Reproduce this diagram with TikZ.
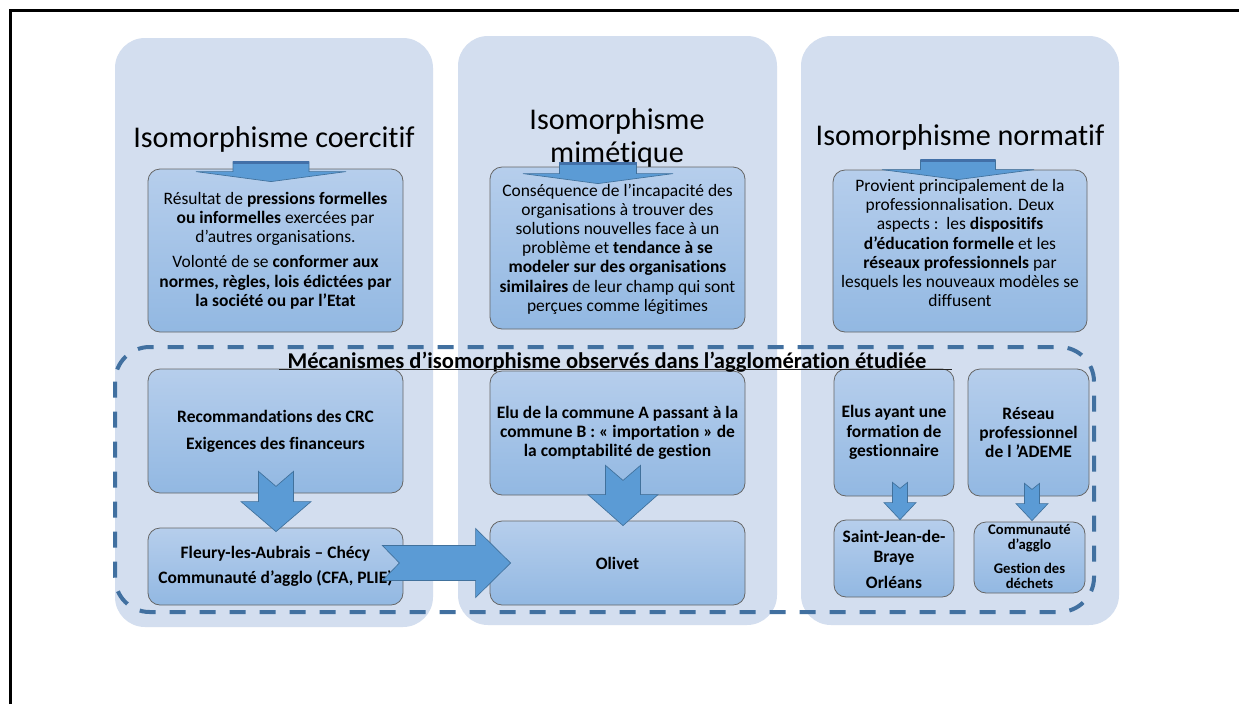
\documentclass[tikz,border=0pt]{standalone}
\usepackage{fontspec}
\setmainfont{Carlito}[Ligatures={NoCommon,NoContextual},RawFeature={-liga;-clig}]
\usetikzlibrary{calc,fit}
\definecolor{colbg}{RGB}{211,222,239}
\definecolor{boxtop}{RGB}{182,206,236}
\definecolor{boxbot}{RGB}{146,184,226}
\definecolor{arrowfill}{RGB}{91,155,213}
\definecolor{arrowdraw}{RGB}{65,113,156}
\definecolor{arrowdark}{RGB}{66,112,168}
\definecolor{dashcol}{RGB}{65,112,160}
\newcommand{\fbody}{\fontsize{13.1pt}{14.4pt}\selectfont}
\newcommand{\ftitle}{\fontsize{22.6pt}{24.75pt}\selectfont}
\newcommand{\fmec}{\fontsize{16.9pt}{19pt}\selectfont\bfseries}
\newcommand{\fsmall}{\fontsize{11pt}{11.6pt}\selectfont\bfseries}
% #1 style, #2 start, #3 tip, #4 shaft half width, #5 head half width, #6 notch depth, #7 head length
\newcommand{\notchdown}[7]{%
  \filldraw[#1] let \p1=#2, \p2=#3 in
   (\x1-#4,\y1) -- (\x1,\y1-#6) -- (\x1+#4,\y1) -- (\x1+#4,\y2+#7) -- (\x1+#5,\y2+#7)
   -- (\x2,\y2) -- (\x1-#5,\y2+#7) -- (\x1-#4,\y2+#7) -- cycle;}
\newcommand{\notchright}[7]{%
  \filldraw[#1] let \p1=#2, \p2=#3 in
   (\x1,\y1+#4) -- (\x1+#6,\y1) -- (\x1,\y1-#4) -- (\x2-#7,\y1-#4) -- (\x2-#7,\y1-#5)
   -- (\x2,\y2) -- (\x2-#7,\y1+#5) -- (\x2-#7,\y1+#4) -- cycle;}
\newcommand{\shafttop}[2]{%
  \draw[arrowdark, line width=2pt] let \p1=#1 in (\x1-#2,\y1-0.6pt) -- (\x1+#2,\y1-0.6pt);}
\begin{document}
\begin{tikzpicture}[x=0.75pt,y=-0.75pt,
  box/.style={draw=black!60, line width=0.6pt, rounded corners=9pt,
              top color=boxtop, bottom color=boxbot, inner sep=0pt},
  txt/.style={align=center, inner sep=0pt, font=\fbody},
  btxt/.style={align=center, inner sep=0pt, font=\fbody\bfseries},
  stxt/.style={align=center, inner sep=0pt, font=\fsmall},
  mtxt/.style={inner sep=0pt, font=\fmec},
  ttl/.style={align=center, inner sep=0pt, font=\ftitle},
  blk/.style={fill=arrowfill, draw=arrowdraw, line width=0.5pt, line join=miter}]
\useasboundingbox (0,0) rectangle (1239,704);
\fill[white] (0,0) rectangle (1239,704);
% frame
\draw[line width=1.7pt] (10.5,704) -- (10.5,10.5) -- (1239,10.5);
% columns
\fill[colbg, rounded corners=22.5pt] (115,38) rectangle (433,627);
\fill[colbg, rounded corners=22.5pt] (458,36) rectangle (777,625);
\fill[colbg, rounded corners=22.5pt] (801,36) rectangle (1119,625);
% dashed frame
\draw[dashcol, line width=3pt, dash pattern=on 12pt off 10.5pt, rounded corners=26pt]
  (115,347) rectangle (1094,612);
% boxes
\node[box, fit={(148,169) (403,332)}] (top1) {};
\node[box, fit={(490,167) (745,329)}] (top2) {};
\node[box, fit={(833,170) (1087,332)}] (top3) {};
\node[box, fit={(148,369) (403,493)}] (rec) {};
\node[box, fit={(148,528) (403,605)}] (fleury) {};
\node[box, fit={(490,371) (745,495)}] (elu) {};
\node[box, fit={(490,521) (745,605)}] (olivet) {};
\node[box, fit={(834,369) (954,496)}] (elus) {};
\node[box, fit={(968,369) (1089,496)}] (reseau) {};
\node[box, fit={(834,520) (954,597)}] (sjb) {};
\node[box, fit={(974,522) (1085,593)}] (comm) {};
% titles
\node[ttl, anchor=base] (tcoer) at (274,147) {Isomorphisme coercitif};
\node[ttl] (tmim) at (617,138) {Isomorphisme\\mimétique};
\node[ttl, anchor=base] (tnorm) at (960,145) {Isomorphisme normatif};
% box texts
\node[txt] (top1t) at (top1.center) {Résultat de \textbf{pressions formelles}\\
  \textbf{ou informelles} exercées par\\ d’autres organisations.\\[4.5pt]
  Volonté de se \textbf{conformer aux}\\ \textbf{normes, règles, lois édictées par}\\
  \textbf{la société ou par l’Etat}};
\node[txt] (top2t) at ([yshift=-0.75pt]top2.center) {Conséquence de l’incapacité des\\
  organisations à trouver des\\ solutions nouvelles face à un\\
  problème et \textbf{tendance à se}\\ \textbf{modeler sur des organisations}\\
  \textbf{similaires} de leur champ qui sont\\ perçues comme légitimes};
\node[txt] (top3t) at ([yshift=6pt]top3.center) {Provient principalement de la\\
  professionnalisation. Deux\\ aspects :\ \ les \textbf{dispositifs}\\
  \textbf{d’éducation formelle} et les\\ \textbf{réseaux professionnels} par\\
  lesquels les nouveaux modèles se\\ diffusent};
\node[mtxt, anchor=base] (mec) at (607,368)
  {Mécanismes d’isomorphisme observés dans l’agglomération étudiée};
\draw[line width=0.75pt, black!85] ([xshift=-6pt,yshift=-1.2pt]mec.base west)
  -- ([xshift=19pt,yshift=-1.2pt]mec.base east);
\node[btxt] (rect) at (rec.center) {Recommandations des CRC\\[5.9pt] Exigences des financeurs};
\node[btxt] (fleuryt) at (fleury.center) {Fleury-les-Aubrais – Chécy\\[4.4pt]
  Communauté d’agglo (CFA, PLIE)};
\node[btxt] (elut) at (elu.center) {Elu de la commune A passant à la\\
  commune B : « importation » de\\ la comptabilité de gestion};
\node[btxt] (olivett) at (olivet.center) {Olivet};
\node[btxt] (elust) at (elus.center) {Elus ayant une\\ formation de\\ gestionnaire};
\node[btxt] (reseaut) at (reseau.center) {Réseau\\ professionnel\\ de l ’ADEME};
\node[btxt] (sjbt) at ([yshift=-0.75pt]sjb.center) {Saint-Jean-de-\\ Braye\\[5.25pt] Orléans};
\node[stxt] (commt) at ([yshift=0.75pt]comm.center) {Communauté\\ d’agglo\\[6pt] Gestion des\\ déchets};
% top wide arrows
\notchdown{blk}{($(top1.north)+(-4.5,-7)$)}{($(top1.north)+(-4.5,13)$)}{28.5pt}{56.25pt}{0pt}{7.5pt}
\shafttop{($(top1.north)+(-4.5,-7)$)}{28.5pt}
\notchdown{blk}{($(top2.north)+(-19.5,-4)$)}{($(top2.north)+(-19.5,17)$)}{28.9pt}{56.25pt}{0pt}{7.5pt}
\shafttop{($(top2.north)+(-19.5,-4)$)}{28.9pt}
\notchdown{blk}{($(top3.north)+(-2,-10)$)}{($(top3.north)+(-2,10)$)}{28.1pt}{57pt}{0pt}{7.5pt}
\shafttop{($(top3.north)+(-2,-10)$)}{28.1pt}
% bottom arrows
\notchdown{blk}{($(rec.south)+(0.5,-22)$)}{($(fleury.north)+(0.5,4)$)}{13.1pt}{26.25pt}{11.25pt}{22.5pt}
\notchdown{blk}{($(elu.south)+(5.5,-30)$)}{($(olivet.north)+(5.5,5)$)}{13.1pt}{26.25pt}{11.25pt}{23.25pt}
\notchdown{blk}{($(elus.south)+(6,-14)$)}{($(sjb.north)+(6,0)$)}{5.6pt}{12pt}{4.5pt}{12.75pt}
\notchdown{blk}{($(reseau.south)+(3.5,-13)$)}{($(comm.north)+(2.5,-1)$)}{5.6pt}{12pt}{4.5pt}{12.75pt}
\notchright{blk}{($(fleury.east)+(-21,-3.5)$)}{($(olivet.west)+(21,0)$)}{13.1pt}{25.9pt}{12.75pt}{26.25pt}
\end{tikzpicture}
\end{document}
